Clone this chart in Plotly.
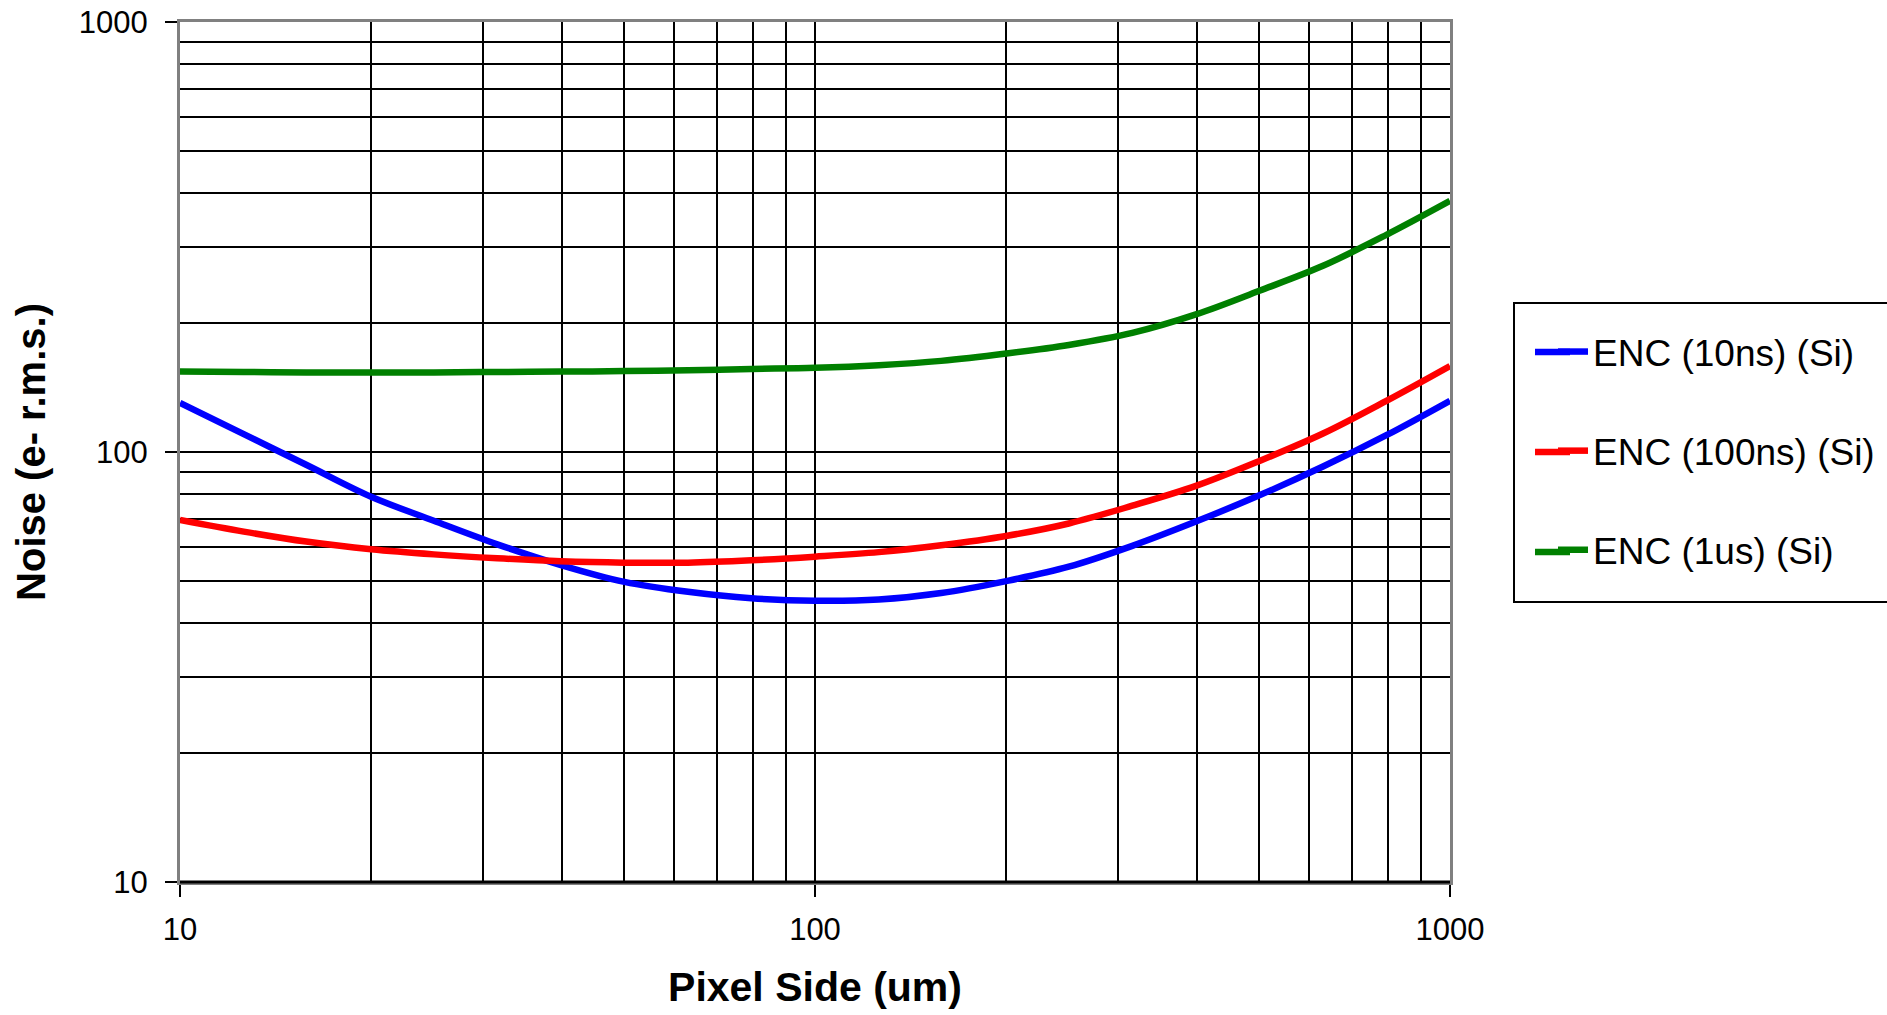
import plotly.graph_objects as go

# Pixel side (um), read at log-even positions
pixel_side = [10, 12.6, 15.8, 20, 25.1, 31.6, 39.8, 50.1, 63.1, 79.4, 100,
              126, 158, 200, 251, 316, 398, 501, 631, 794, 1000]

# Noise (e- r.m.s.)
enc_10ns = [130, 110, 93.4, 78.7, 69.2, 61.0, 54.6, 49.9, 47.3, 45.7, 45.1,
            45.4, 47.0, 50.1, 54.1, 60.5, 68.9, 79.3, 92.5, 109.4, 131.6]
enc_100ns = [69.5, 65.3, 61.9, 59.4, 57.8, 56.6, 55.7, 55.3, 55.3, 56.0, 57.1,
             58.5, 60.7, 63.8, 68.2, 75.0, 83.4, 95.3, 110.4, 131.5, 158.5]
enc_1us = [153.8, 153.5, 153.1, 153.1, 153.1, 153.5, 153.8, 154.2, 154.9, 156.0, 157.0,
           159.2, 162.9, 169.4, 177.4, 189.2, 208.9, 237.1, 271.0, 319.9, 383.7]

series_names = ["ENC (10ns) (Si)", "ENC (100ns) (Si)", "ENC (1us) (Si)"]
series_colors = ["#0000ff", "#ff0000", "#008000"]
series_values = [enc_10ns, enc_100ns, enc_1us]

major_ticks = [10, 100, 1000]
major_labels = ["10", "100", "1000"]
minor_vals = [m * d for d in (10, 100) for m in range(2, 10)]

FONT = "Liberation Sans, Arial, sans-serif"
W, H = 1887, 1015

fig = go.Figure()
for i, (name, color, vals) in enumerate(zip(series_names, series_colors, series_values)):
    fig.add_trace(go.Scatter(
        x=pixel_side, y=vals, mode="lines", name=name,
        line=dict(color=color, width=6.5, shape="spline", smoothing=1.0),
        legendgroup=f"g{i}",
    ))

axis_common = dict(
    type="log", range=[1, 3],
    tickvals=major_ticks, ticktext=major_labels,
    showgrid=True, gridcolor="black", gridwidth=1.5,
    minor=dict(tickvals=minor_vals, showgrid=True, gridcolor="black", gridwidth=1.5, ticks=""),
    showline=True, linecolor="#808080", linewidth=3, mirror=True,
    ticks="outside", ticklen=12, tickwidth=2, tickcolor="black",
    tickfont=dict(family=FONT, size=31, color="black"),
    zeroline=False, automargin=False,
)

fig.update_xaxes(**axis_common,
                 title=dict(text="<b>Pixel Side (um)</b>", font=dict(family=FONT, size=41, color="black"), standoff=27),
                 ticklabelstandoff=6)
fig.update_yaxes(**axis_common,
                 title=dict(text="<b>Noise (e- r.m.s.)</b>", font=dict(family=FONT, size=40, color="black"), standoff=21),
                 ticklabelstandoff=11)

# legend frame (extends past the right edge like the reference)
fig.add_shape(type="rect", xref="paper", yref="paper",
              x0=(1514 - 180) / 1270, x1=1.4, y0=(882 - 602) / 860, y1=(882 - 303) / 860,
              line=dict(color="black", width=2), fillcolor="rgba(0,0,0,0)", layer="above")
# longer legend line samples (the reference's samples are about twice plotly's)
for color, ypix in zip(series_colors, [352, 452, 552]):
    fig.add_shape(type="line", xref="paper", yref="paper",
                  x0=(1535 - 180) / 1270, x1=(1570 - 180) / 1270,
                  y0=(882 - ypix) / 860, y1=(882 - ypix) / 860,
                  line=dict(color=color, width=6.5), layer="above")
# black bottom axis line
fig.add_shape(type="line", xref="paper", yref="paper", x0=0, x1=1, y0=0, y1=0,
              line=dict(color="black", width=3), layer="above")

fig.update_layout(
    width=W, height=H,
    margin=dict(l=180, r=437, t=22, b=133, autoexpand=False),
    paper_bgcolor="white", plot_bgcolor="white",
    showlegend=True,
    legend=dict(
        xref="container", yref="container",
        x=1553 / W, y=1 - 321 / H, xanchor="left", yanchor="top",
        bgcolor="rgba(0,0,0,0)", borderwidth=0,
        font=dict(family=FONT, size=37, color="black"),
        tracegroupgap=48, itemwidth=30,
    ),
    font=dict(family=FONT, color="black"),
)

fig.write_html("out.html")
